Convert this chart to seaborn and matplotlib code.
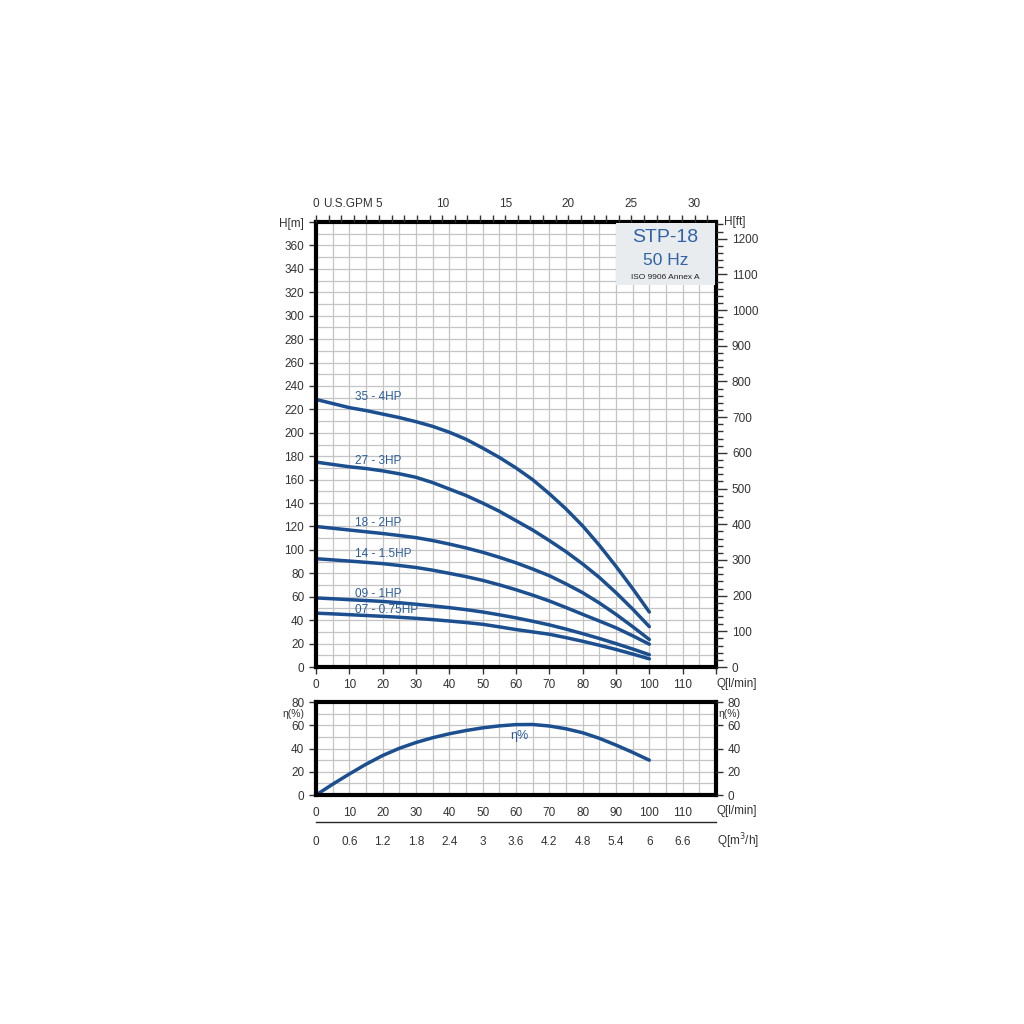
import matplotlib
matplotlib.use("Agg")
import matplotlib.pyplot as plt
import matplotlib.transforms as mtransforms
import numpy as np
import pandas as pd
import seaborn as sns
from matplotlib.ticker import MultipleLocator

# flow points in l/min
flow = [0, 5, 10, 15, 20, 25, 30, 35, 40, 45, 50, 55, 60, 65, 70, 75, 80, 85, 90, 95, 100]

# head curves (m) for each pump model
head_35 = [228.5, 225, 221.5, 219, 216, 213, 209.5, 205.5, 200.5, 194.5, 187,
           179, 170, 160, 148, 135, 120.5, 104, 86, 67, 47]
head_27 = [175, 173, 171, 169.5, 167.5, 165, 162, 157.5, 152, 146.5, 140,
           133, 125, 117, 108, 98.5, 88, 76.5, 63.5, 49.5, 34.5]
head_18 = [120, 118.5, 117, 115.5, 114, 112.3, 110.5, 108, 105, 101.7, 98,
           93.7, 89, 83.7, 78, 71, 63.5, 54.7, 45, 34.5, 23.5]
head_14 = [92.5, 91.5, 90.5, 89.4, 88.3, 86.7, 85, 82.7, 80, 77.2, 74,
           70.2, 66, 61.4, 56.4, 50.8, 45, 39.3, 33.5, 26.7, 19.5]
head_09 = [59, 58.3, 57.5, 56.8, 56, 54.9, 53.6, 52.2, 50.7, 49, 47,
           44.6, 42, 39.1, 36, 32.4, 28.5, 24.4, 20, 15.4, 10.5]
head_07 = [46, 45.4, 44.7, 44, 43.3, 42.5, 41.6, 40.5, 39.3, 38, 36.5,
           34.3, 32, 30, 28, 25.1, 22, 18.6, 15, 11.1, 7]

models = ["35 - 4HP", "27 - 3HP", "18 - 2HP", "14 - 1.5HP", "09 - 1HP", "07 - 0.75HP"]
label_heads = [231, 176, 123, 96.5, 62, 48.5]

# efficiency curve
efficiency = [0, 9.3, 18.1, 26.5, 34, 40.2, 45.2, 49.3, 52.7, 55.5, 57.8,
              59.5, 60.6, 60.7, 59.4, 57, 53.6, 48.8, 43, 36.7, 30]

q_ticks = [0, 10, 20, 30, 40, 50, 60, 70, 80, 90, 100, 110]
m3h_labels = ["0", "0.6", "1.2", "1.8", "2.4", "3", "3.6", "4.2", "4.8", "5.4", "6", "6.6"]
gpm_ticks = [0, 5, 10, 15, 20, 25, 30]

LINE = "#1c4f8f"
TXT = "#2b5d9b"
TICK = "#333333"
FS = 8.5

sns.set_style("white")
plt.rcParams['font.family'] = ['Liberation Sans', 'DejaVu Sans']

heads = [head_35, head_27, head_18, head_14, head_09, head_07]
df = pd.concat([pd.DataFrame({"Q": flow, "H": h, "model": m}) for h, m in zip(heads, models)])
df_eff = pd.DataFrame({"Q": flow, "eta": efficiency})

fig = plt.figure(figsize=(10.24, 10.24), dpi=100)
ax = fig.add_axes([0.3086, 0.3486, 0.3906, 0.4346])
ax2 = fig.add_axes([0.3086, 0.2236, 0.3906, 0.0908])
ax3 = fig.add_axes([0.3086, 0.1970, 0.3906, 0.0001])


def style_grid(a):
    a.xaxis.set_minor_locator(MultipleLocator(5))
    a.yaxis.set_minor_locator(MultipleLocator(10))
    a.grid(which="both", color="#c4c4c4", linewidth=0.9)
    a.set_axisbelow(True)
    for s in a.spines.values():
        s.set_linewidth(3)
        s.set_color("black")
    a.tick_params(which="both", direction="out", colors=TICK, labelsize=FS,
                  length=5, width=1)
    a.tick_params(which="minor", length=0)


# main head chart
sns.lineplot(data=df, x="Q", y="H", units="model", estimator=None, color=LINE,
             linewidth=2.5, ax=ax, legend=False)
ax.set_xlim(0, 120)
ax.set_ylim(0, 380)
ax.set_xticks(q_ticks + [120])
ax.set_xticklabels([str(t) for t in q_ticks] + [""])
ax.set_yticks(list(range(0, 380, 20)) + [380])
ax.set_yticklabels([str(t) for t in range(0, 380, 20)] + ["H[m]"])
style_grid(ax)
ax.set_xlabel("")
ax.set_ylabel("")
ax.text(120.3, -14.5, "Q[l/min]", fontsize=FS, color=TICK, ha="left", va="center")

for m, hy in zip(models, label_heads):
    ax.text(11.7, hy, m, fontsize=FS, color=TXT, ha="left", va="center")

# title box
ax.add_patch(plt.Rectangle((90, 326), 29.6, 53, facecolor="#e9ecef", edgecolor="none", zorder=3))
ax.text(104.8, 366.5, "STP-18", fontsize=14, color="#2f63a6", ha="center", va="center", zorder=4)
ax.text(104.8, 347, "50 Hz", fontsize=12.5, color="#2f63a6", ha="center", va="center", zorder=4)
ax.text(104.8, 332.5, "ISO 9906 Annex A", fontsize=6, color="#222222", ha="center", va="center", zorder=4)

# right axis in feet
axr = ax.twinx()
axr.set_ylim(0, 380 / 0.3048)
axr.set_yticks(range(0, 1300, 100))
axr.yaxis.set_minor_locator(MultipleLocator(20))
axr.tick_params(which="major", direction="out", colors=TICK, labelsize=FS, length=8, width=1)
axr.tick_params(which="minor", direction="out", length=5, width=1, colors=TICK)
for s in axr.spines.values():
    s.set_visible(False)
axr.text(1.02, 1.0, "H[ft]", transform=ax.transAxes, fontsize=FS, color=TICK, ha="left", va="center")

# top axis in US GPM
axt = ax.twiny()
axt.set_xlim(0, 120 / 3.78541)
axt.set_xticks(gpm_ticks)
axt.xaxis.set_minor_locator(MultipleLocator(1))
axt.tick_params(which="both", direction="out", colors=TICK, labelsize=FS, length=5, width=1)
for s in axt.spines.values():
    s.set_visible(False)
axt.text(2.5, 1.04, "U.S.GPM", transform=axt.get_xaxis_transform(), fontsize=FS,
         color=TICK, ha="center", va="center")

# efficiency chart
sns.lineplot(data=df_eff, x="Q", y="eta", color=LINE, linewidth=2.5, ax=ax2)
ax2.set_xlim(0, 120)
ax2.set_ylim(0, 80)
ax2.set_xticks(q_ticks + [120])
ax2.set_xticklabels([str(t) for t in q_ticks] + [""])
ax2.set_yticks([0, 20, 40, 60, 80])
style_grid(ax2)
ax2.set_xlabel("")
ax2.set_ylabel("")
ax2.text(120.3, -14, "Q[l/min]", fontsize=FS, color=TICK, ha="left", va="center")
ax2.text(61, 51, "η%", fontsize=9, color=TXT, ha="center", va="center")
ax2.text(-0.03, 0.875, "η(%)", transform=ax2.transAxes, fontsize=7.5, color=TICK, ha="right", va="center")
ax2.text(1.005, 0.875, "η(%)", transform=ax2.transAxes, fontsize=7.5, color=TICK, ha="left", va="center")

ax2r = ax2.twinx()
ax2r.set_ylim(0, 80)
ax2r.set_yticks([0, 20, 40, 60, 80])
ax2r.tick_params(direction="out", colors=TICK, labelsize=FS, length=5, width=1)
for s in ax2r.spines.values():
    s.set_visible(False)

# m3/h scale
ax3.set_xlim(0, 120)
ax3.set_ylim(0, 1)
ax3.set_yticks([])
ax3.set_xticks(q_ticks + [120])
ax3.set_xticklabels(m3h_labels + [""])
ax3.xaxis.set_minor_locator(MultipleLocator(5))
ax3.tick_params(which="both", direction="out", colors=TICK, labelsize=FS, length=4, width=1, pad=6)
for side in ["top", "left", "right"]:
    ax3.spines[side].set_visible(False)
ax3.spines["bottom"].set_linewidth(1)
shift = mtransforms.ScaledTranslation(0, -0.19, fig.dpi_scale_trans)
ax3.text(120.3, 0, "Q[m$^3$/h]", transform=ax3.get_xaxis_transform() + shift,
         fontsize=FS, color=TICK, ha="left", va="center")

fig.savefig("out.png", dpi=100, facecolor="white")
